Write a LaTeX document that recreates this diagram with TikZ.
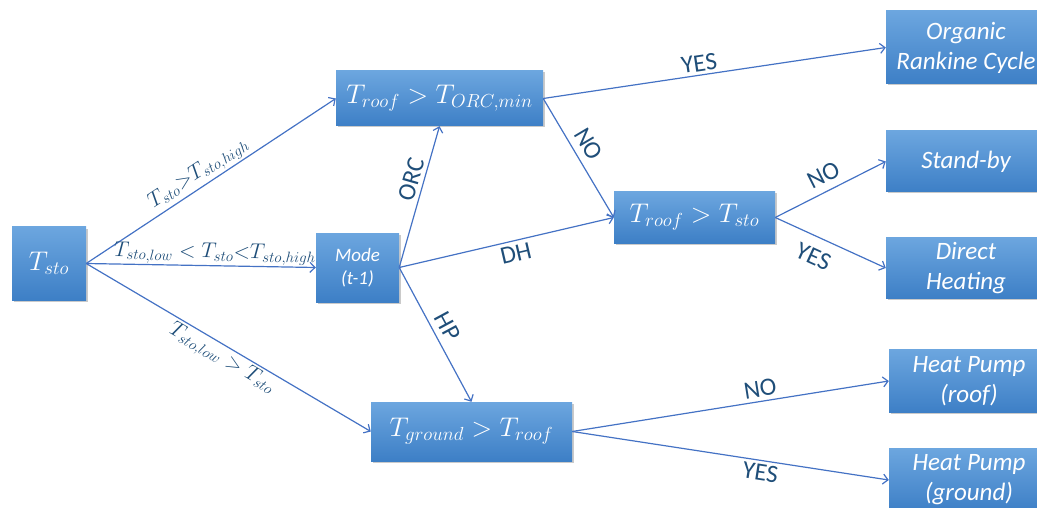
\RequirePackage{fix-cm}
\documentclass[tikz,border=0pt]{standalone}
\usepackage{fontspec}
\setmainfont{Carlito}
\usetikzlibrary{arrows.meta,shadows}
\definecolor{linec}{HTML}{4472C4}
\definecolor{labc}{HTML}{1F4E79}
\definecolor{boxtop}{HTML}{6CA6DF}
\definecolor{boxbot}{HTML}{3D7FC6}
\begin{document}
\begin{tikzpicture}[x=1pt,y=-1pt,
  box/.style={rectangle, top color=boxtop, bottom color=boxbot, draw=none, text=white,
    inner sep=0pt, align=center,
    drop shadow={shadow xshift=1.5pt, shadow yshift=-1.5pt, opacity=0.35, fill=black!60}},
  mathbox/.style={box, font=\fontsize{27}{32}\selectfont},
  outbox/.style={box, minimum width=160pt, font=\fontsize{25}{30}\selectfont\itshape},
  conn/.style={draw=linec, line width=1.2pt, -{Straight Barb[length=5pt,width=10pt]}},
  lab/.style={text=labc, font=\fontsize{25}{30}\selectfont, inner sep=4pt, sloped},
  mlab/.style={text=labc, font=\fontsize{21.5}{26}\selectfont, inner sep=2pt, sloped}
]
\useasboundingbox (0,0) rectangle (1037,508);
\clip (0,0) rectangle (1037,508);

\node[mathbox, minimum width=74pt, minimum height=73pt] (tsto) at (49,263.5) {$T_{sto}$};
\node[mathbox, minimum width=207pt, minimum height=55pt] (orc) at (439.5,98.5) {$T_{roof} > T_{ORC,min}$};
\node[box, minimum width=83pt, minimum height=69pt, font=\fontsize{19}{23}\selectfont\itshape] (mode) at (357.5,267.5) {Mode\\(t-1)};
\node[mathbox, minimum width=161pt, minimum height=51pt] (cmp) at (694.5,217.5) {$T_{roof} > T_{sto}$};
\node[mathbox, minimum width=201pt, minimum height=59pt] (tg) at (471.5,431.5) {$T_{ground} > T_{roof}$};

\node[outbox, minimum height=73pt] (org) at (966,47.5) {Organic\\Rankine Cycle};
\node[outbox, minimum height=61pt] (sb) at (966,161.5) {Stand-by};
\node[outbox, minimum height=61pt] (dh) at (966,268) {Direct\\Heating};
\node[outbox, minimum height=63pt] (hpr) at (969,381) {Heat Pump\\(roof)};
\node[outbox, minimum height=63pt] (hpg) at (969,480) {Heat Pump\\(ground)};

\draw[conn] (tsto.east) -- (orc.west) node[mlab, pos=0.48, above] {$T_{sto}{>}T_{sto,high}$};
\draw[conn] (tsto.east) -- (mode.west) node[mlab, pos=0.56, above, inner sep=1pt] {$T_{sto,low} < T_{sto}{<}T_{sto,high}$};
\draw[conn] (tsto.east) -- (tg.west) node[mlab, pos=0.5, below] {$T_{sto,low} > T_{sto}$};

\draw[conn] (mode.east) -- (orc.south) node[lab, pos=0.6, above] {ORC};
\draw[conn] (mode.east) -- (cmp.west) node[lab, pos=0.53, below] {DH};
\draw[conn] (mode.east) -- (tg.north) node[lab, pos=0.49, above, inner sep=6pt] {HP};

\draw[conn] (orc.east) -- (org.west) node[lab, pos=0.46, above, inner sep=3pt] {YES};
\draw[conn] (orc.east) -- (cmp.west) node[lab, pos=0.45, above, inner sep=7pt] {NO};

\draw[conn] (cmp.east) -- (sb.west) node[lab, pos=0.5, above, inner sep=7pt] {NO};
\draw[conn] (cmp.east) -- (dh.west) node[lab, pos=0.42, below, inner sep=11pt] {YES};

\draw[conn] (tg.east) -- (hpr.west) node[lab, pos=0.6, above] {NO};
\draw[conn] (tg.east) -- (hpg.west) node[lab, pos=0.6, below, inner sep=3pt] {YES};
\end{tikzpicture}
\end{document}
